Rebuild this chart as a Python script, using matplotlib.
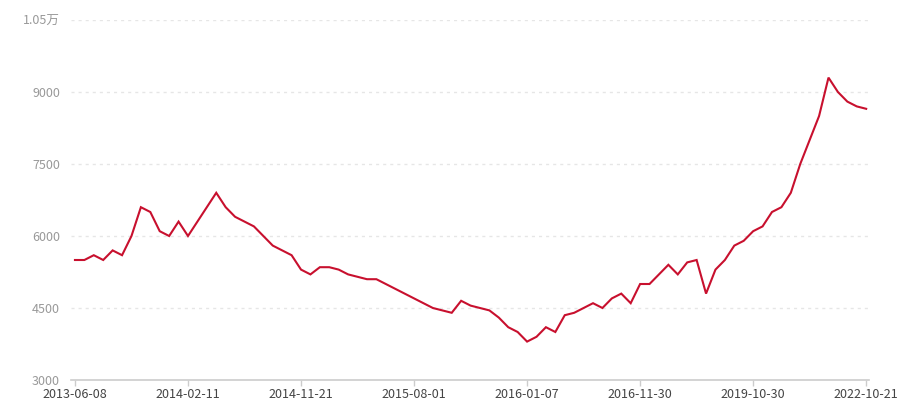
import matplotlib
matplotlib.use("Agg")
import matplotlib.pyplot as plt
from matplotlib.ticker import FixedLocator

plt.rcParams['font.family'] = ['Noto Sans CJK SC', 'DejaVu Sans']

tick_labels = ["2013-06-08", "2014-02-11", "2014-11-21", "2015-08-01",
               "2016-01-07", "2016-11-30", "2019-10-30", "2022-10-21"]
tick_step = 12

values = [5500, 5500, 5600, 5500, 5700, 5600, 6000, 6600, 6500, 6100,
          6000, 6300, 6000, 6300, 6600, 6900, 6600, 6400, 6300, 6200,
          6000, 5800, 5700, 5600, 5300, 5200, 5350, 5350, 5300, 5200,
          5150, 5100, 5100, 5000, 4900, 4800, 4700, 4600, 4500, 4450,
          4400, 4650, 4550, 4500, 4450, 4300, 4100, 4000, 3800, 3900,
          4100, 4000, 4350, 4400, 4500, 4600, 4500, 4700, 4800, 4600,
          5000, 5000, 5200, 5400, 5200, 5450, 5500, 4800, 5300, 5500,
          5800, 5900, 6100, 6200, 6500, 6600, 6900, 7500, 8000, 8500,
          9300, 9000, 8800, 8700, 8650]

y_ticks = [3000, 4500, 6000, 7500, 9000, 10500]
y_tick_labels = ["3000", "4500", "6000", "7500", "9000", "1.05万"]

fig = plt.figure(figsize=(9, 4), dpi=100)
ax = fig.add_axes([71/900, 20/400, (869-71)/900, 360/400])

x = list(range(len(values)))
ax.plot(x, values, color='#c8102e', linewidth=1.5, solid_joinstyle='miter')

ax.set_xlim(-0.42, len(values) - 1 + 0.3)
ax.set_ylim(3000, 10500)

ax.yaxis.set_major_locator(FixedLocator(y_ticks))
ax.set_yticklabels(y_tick_labels)
ax.set_xticks([i * tick_step for i in range(len(tick_labels))])
ax.set_xticklabels(tick_labels)

for yv in y_ticks[1:]:
    ax.axhline(yv, color='#e6e6e6', linewidth=1.0, dashes=(2.2, 2.9), zorder=0)

for s in ['top', 'right', 'left']:
    ax.spines[s].set_visible(False)
ax.spines['bottom'].set_color('#cccccc')
ax.spines['bottom'].set_linewidth(1.2)

ax.tick_params(axis='y', length=0, pad=8, labelsize=9, labelcolor='#999999')
ax.tick_params(axis='x', length=4, width=1, color='#cccccc', pad=2,
               labelsize=9, labelcolor='#444444')

fig.savefig("out.png", dpi=100, facecolor='white')
